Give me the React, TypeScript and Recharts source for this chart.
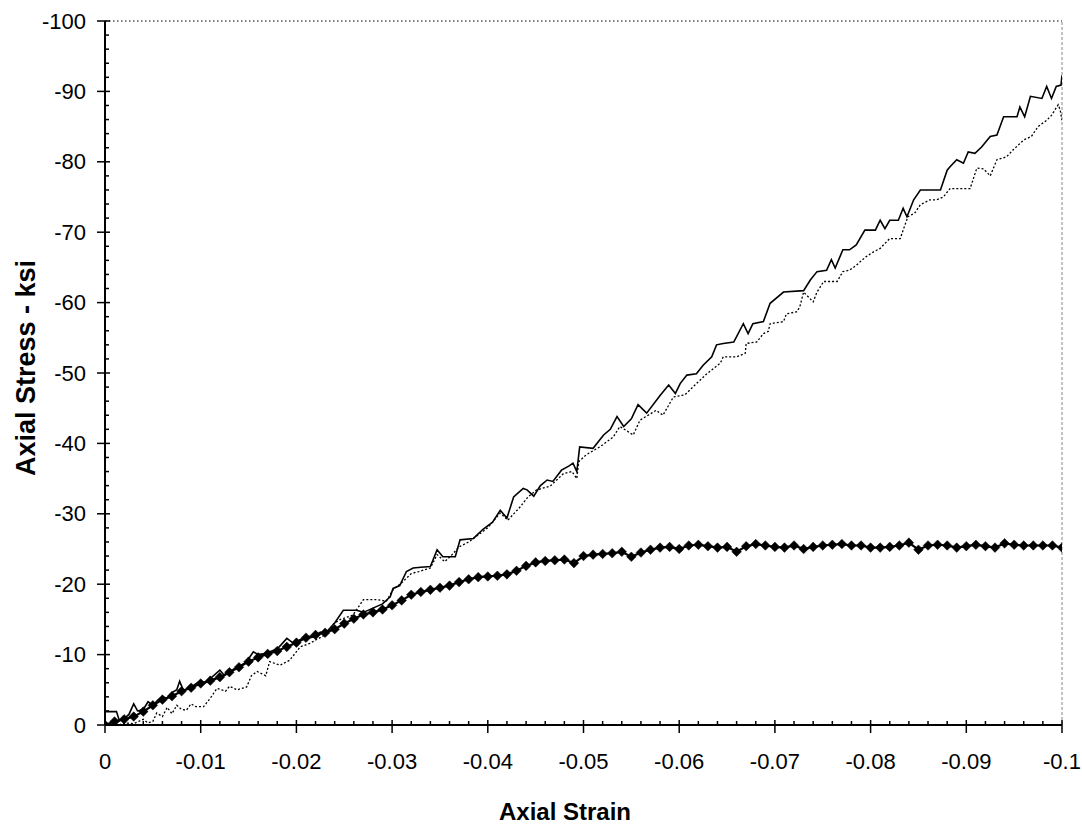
import React from 'react';
import { LineChart, Line, XAxis, YAxis, ReferenceLine } from 'recharts';

// ---- Data ----
const solidStrain = [0, -0.0012, -0.0015, -0.002, -0.0025, -0.003, -0.0034, -0.004, -0.0045, -0.005, -0.0055, -0.006, -0.0065, -0.007, -0.0075, -0.0078, -0.0082, -0.009, -0.0099, -0.0105, -0.011, -0.012, -0.0125, -0.013, -0.014, -0.0148, -0.0155, -0.016, -0.0165, -0.017, -0.018, -0.019, -0.0197, -0.0205, -0.0218, -0.0225, -0.023, -0.024, -0.0249, -0.0263, -0.027, -0.028, -0.029, -0.0298, -0.0301, -0.0308, -0.0315, -0.0322, -0.033, -0.034, -0.0347, -0.0353, -0.0366, -0.0371, -0.0385, -0.0395, -0.0405, -0.0413, -0.042, -0.0427, -0.0437, -0.0441, -0.0448, -0.0455, -0.0462, -0.0468, -0.0477, -0.0485, -0.0489, -0.0493, -0.0496, -0.051, -0.0521, -0.0528, -0.0535, -0.0542, -0.055, -0.0557, -0.0566, -0.058, -0.0589, -0.0596, -0.0601, -0.0608, -0.0618, -0.0625, -0.0634, -0.0639, -0.0646, -0.0657, -0.0667, -0.0672, -0.0677, -0.0688, -0.0695, -0.0709, -0.073, -0.0737, -0.0744, -0.0754, -0.0759, -0.0763, -0.0771, -0.0778, -0.0785, -0.0794, -0.0805, -0.081, -0.0815, -0.082, -0.0829, -0.0834, -0.0838, -0.0845, -0.0852, -0.0873, -0.088, -0.0883, -0.089, -0.0897, -0.0902, -0.0909, -0.0916, -0.0925, -0.0932, -0.0939, -0.0953, -0.0956, -0.0961, -0.0967, -0.0979, -0.0984, -0.0989, -0.0994, -0.0999, -0.1];
const solidStress = [-1.9, -1.9, -0.6, -0.9, -1.5, -3.0, -2.0, -2.2, -3.3, -2.8, -3.5, -4.0, -3.8, -4.6, -5.0, -6.2, -4.9, -5.4, -6.2, -6.0, -6.6, -7.8, -7.0, -7.6, -8.3, -9.0, -10.4, -10.0, -10.1, -10.3, -10.8, -12.3, -11.6, -12.2, -12.5, -13.2, -13.0, -14.5, -16.3, -16.3, -16.0, -16.6, -17.2, -18.2, -19.4, -19.8, -21.8, -22.3, -22.4, -22.5, -24.9, -23.9, -23.9, -26.3, -26.5, -27.8, -28.8, -30.5, -29.4, -32.4, -33.6, -33.4, -32.5, -34.0, -34.8, -34.6, -36.2, -36.8, -37.2, -36.0, -39.5, -39.3, -41.2, -42.0, -43.8, -42.4, -43.5, -45.5, -44.3, -46.8, -48.3, -47.1, -48.5, -49.7, -49.9, -51.1, -52.3, -54.0, -54.2, -54.4, -57.0, -55.6, -57.0, -57.3, -59.9, -61.5, -61.7, -63.2, -64.4, -64.6, -66.1, -64.9, -67.5, -67.5, -68.2, -70.3, -70.3, -71.7, -70.5, -71.7, -71.7, -73.4, -72.2, -74.6, -76.0, -76.0, -78.8, -79.3, -80.3, -79.8, -81.4, -81.2, -82.1, -83.6, -83.8, -86.4, -86.4, -87.8, -86.4, -89.3, -89.0, -90.7, -89.0, -90.7, -90.9, -92.3];

const dottedStrain = [-0.0015, -0.002, -0.003, -0.004, -0.0045, -0.005, -0.0054, -0.006, -0.0065, -0.007, -0.0075, -0.008, -0.0085, -0.009, -0.0095, -0.0103, -0.011, -0.0117, -0.0126, -0.013, -0.0138, -0.0148, -0.0153, -0.0159, -0.0168, -0.0172, -0.0183, -0.0193, -0.0204, -0.0214, -0.0222, -0.023, -0.0239, -0.0246, -0.0259, -0.027, -0.0284, -0.0294, -0.0301, -0.031, -0.032, -0.0328, -0.0335, -0.034, -0.0347, -0.0355, -0.0362, -0.037, -0.038, -0.039, -0.0399, -0.0413, -0.0421, -0.0434, -0.0442, -0.0451, -0.0465, -0.0479, -0.0488, -0.0493, -0.0495, -0.0503, -0.0517, -0.0531, -0.0538, -0.0552, -0.0559, -0.0576, -0.0583, -0.0594, -0.0606, -0.0618, -0.0629, -0.0643, -0.0646, -0.066, -0.0669, -0.067, -0.0681, -0.0688, -0.0693, -0.0695, -0.0709, -0.0712, -0.0723, -0.0726, -0.073, -0.074, -0.0744, -0.0751, -0.0765, -0.0771, -0.0778, -0.0785, -0.0795, -0.0803, -0.081, -0.082, -0.0831, -0.0834, -0.0839, -0.0846, -0.0852, -0.0862, -0.0869, -0.0876, -0.0883, -0.0904, -0.0911, -0.0918, -0.0925, -0.0932, -0.0942, -0.0949, -0.096, -0.0968, -0.0975, -0.0984, -0.0989, -0.0996, -0.0998, -0.1];
const dottedStress = [0, -0.3, -0.2, -0.8, -0.3, -0.5, -1.7, -1.2, -2.5, -1.6, -2.8, -2.2, -2.1, -3.0, -2.6, -2.6, -3.8, -5.2, -4.8, -5.5, -5.0, -5.4, -7.0, -7.6, -7.0, -9.0, -8.5, -9.2, -11.1, -11.6, -12.2, -12.8, -14.4, -15.0, -15.6, -17.8, -17.8, -17.6, -19.2, -20.2, -21.5, -21.8, -22.1, -22.3, -24.2, -23.2, -24.1, -25.3, -26.0, -27.0, -27.9, -30.1, -29.1, -31.0, -32.4, -33.4, -33.9, -35.7, -36.0, -35.0, -37.4, -38.4, -39.5, -40.9, -42.4, -41.2, -43.3, -44.7, -44.0, -46.6, -46.9, -48.5, -49.9, -51.4, -52.3, -52.3, -52.8, -54.2, -54.4, -55.6, -55.9, -57.0, -57.3, -58.4, -58.7, -59.4, -61.5, -60.1, -61.5, -63.0, -63.0, -64.4, -64.6, -65.3, -66.5, -67.2, -67.7, -69.1, -69.1, -70.3, -72.2, -72.7, -73.9, -74.6, -74.6, -75.0, -76.2, -76.2, -79.1, -79.0, -78.0, -80.3, -80.7, -81.7, -83.1, -83.6, -85.0, -85.9, -86.6, -88.1, -87.4, -85.9];

const diamondStrain = [0, -0.001, -0.002, -0.003, -0.004, -0.005, -0.006, -0.007, -0.008, -0.009, -0.01, -0.011, -0.012, -0.013, -0.014, -0.015, -0.016, -0.017, -0.018, -0.019, -0.02, -0.021, -0.022, -0.023, -0.024, -0.025, -0.026, -0.027, -0.028, -0.029, -0.03, -0.031, -0.032, -0.033, -0.034, -0.035, -0.036, -0.037, -0.038, -0.039, -0.04, -0.041, -0.042, -0.043, -0.044, -0.045, -0.046, -0.047, -0.048, -0.049, -0.05, -0.051, -0.052, -0.053, -0.054, -0.055, -0.056, -0.057, -0.058, -0.059, -0.06, -0.061, -0.062, -0.063, -0.064, -0.065, -0.066, -0.067, -0.068, -0.069, -0.07, -0.071, -0.072, -0.073, -0.074, -0.075, -0.076, -0.077, -0.078, -0.079, -0.08, -0.081, -0.082, -0.083, -0.084, -0.085, -0.086, -0.087, -0.088, -0.089, -0.09, -0.091, -0.092, -0.093, -0.094, -0.095, -0.096, -0.097, -0.098, -0.099, -0.1];
const diamondStress = [0, -0.5, -0.8, -1.2, -1.9, -2.8, -3.6, -4.1, -4.8, -5.3, -5.9, -6.3, -6.8, -7.5, -8.2, -9.0, -9.6, -10.1, -10.5, -11.1, -11.7, -12.4, -12.8, -13.1, -13.6, -14.4, -15.1, -15.7, -16.0, -16.4, -17.0, -17.7, -18.5, -18.9, -19.2, -19.5, -19.8, -20.3, -20.7, -21.0, -21.1, -21.2, -21.4, -21.9, -22.6, -23.1, -23.3, -23.4, -23.5, -23.0, -24.0, -24.2, -24.3, -24.4, -24.6, -23.9, -24.5, -24.9, -25.2, -25.3, -25.0, -25.5, -25.6, -25.4, -25.2, -25.3, -24.6, -25.4, -25.7, -25.5, -25.3, -25.2, -25.5, -25.0, -25.3, -25.5, -25.6, -25.7, -25.5, -25.5, -25.2, -25.2, -25.3, -25.5, -25.9, -24.9, -25.5, -25.6, -25.5, -25.2, -25.4, -25.6, -25.4, -25.2, -25.8, -25.6, -25.5, -25.5, -25.5, -25.5, -25.2];

const xMajorTicks = [0, -0.01, -0.02, -0.03, -0.04, -0.05, -0.06, -0.07, -0.08, -0.09, -0.1];
const yMajorTicks = [0, -10, -20, -30, -40, -50, -60, -70, -80, -90, -100];
const xTitle = 'Axial Strain';
const yTitle = 'Axial Stress - ksi';

// ---- helpers ----
const zip = (xs: number[], ys: number[]) => xs.map((x, i) => ({ x, y: ys[i] }));
const solidData = zip(solidStrain, solidStress);
const dottedData = zip(dottedStrain, dottedStress);
const diamondData = zip(diamondStrain, diamondStress);

const subdivide = (majors: number[], n: number) => {
  const out: number[] = [];
  for (let i = 0; i < majors.length - 1; i++) {
    for (let k = 0; k < n; k++) out.push(majors[i] + ((majors[i + 1] - majors[i]) * k) / n);
  }
  out.push(majors[majors.length - 1]);
  return out;
};
const xTicks = subdivide(xMajorTicks, 5);
const yTicks = subdivide(yMajorTicks, 5);

const isMajor = (v: number, majors: number[]) => majors.some((m) => Math.abs(m - v) < 1e-9);
const fmt = (v: number) => {
  const s = String(Number(v.toFixed(2)));
  return s === '-0' ? '0' : s;
};

const FONT = '"Liberation Sans", Arial, Helvetica, sans-serif';

const XTick = (props: any) => {
  const { x, y, payload } = props;
  const v = payload.value;
  const major = isMajor(v, xMajorTicks);
  return (
    <g>
      <line x1={x} x2={x} y1={major ? y - 5 : y - 4} y2={major ? y + 8 : y} stroke="#000" strokeWidth={1.5} />
      {major && (
        <text x={x} y={y + 36} textAnchor="middle" dominantBaseline="central" fontSize={22} fontFamily={FONT} fill="#000">
          {fmt(v)}
        </text>
      )}
    </g>
  );
};

const YTick = (props: any) => {
  const { x, y, payload } = props;
  const v = payload.value;
  const major = isMajor(v, yMajorTicks);
  return (
    <g>
      <line x1={major ? x - 8 : x} x2={major ? x + 5 : x + 4} y1={y} y2={y} stroke="#000" strokeWidth={1.5} />
      {major && (
        <text x={x - 19} y={y} textAnchor="end" dominantBaseline="central" fontSize={22} fontFamily={FONT} fill="#000">
          {fmt(v)}
        </text>
      )}
    </g>
  );
};

const Diamond = (props: any) => {
  const { cx, cy, index } = props;
  if (cx == null || cy == null) return <g key={`d-${index}`} />;
  const r = 4.8;
  return (
    <polygon
      key={`d-${index}`}
      points={`${cx},${cy - r} ${cx + r},${cy} ${cx},${cy + r} ${cx - r},${cy}`}
      fill="#000"
      stroke="#000"
      strokeWidth={0.5}
    />
  );
};

export default function App() {
  return (
    <div style={{ position: 'absolute', left: 0, top: 0, width: 1082, height: 828, background: '#fff' }}>
      <LineChart width={1082} height={828} margin={{ top: 21, right: 20, bottom: 0, left: 0 }}>
        <XAxis
          dataKey="x"
          type="number"
          domain={[-0.1, 0]}
          reversed
          ticks={xTicks}
          interval={0}
          tickSize={0}
          tickMargin={0}
          tickLine={false}
          tick={<XTick />}
          axisLine={{ stroke: '#000', strokeWidth: 2 }}
          height={103}
          allowDataOverflow
        />
        <YAxis
          dataKey="y"
          type="number"
          domain={[-100, 0]}
          reversed
          ticks={yTicks}
          interval={0}
          tickSize={0}
          tickMargin={0}
          tickLine={false}
          tick={<YTick />}
          axisLine={{ stroke: '#000', strokeWidth: 2 }}
          width={105}
          allowDataOverflow
        />
        <ReferenceLine y={-100} stroke="#000" strokeWidth={1.2} strokeDasharray="1.5 2.5" ifOverflow="visible" />
        <ReferenceLine x={-0.1} stroke="#888" strokeWidth={1} strokeDasharray="3 2" ifOverflow="visible" />
        <Line data={dottedData} dataKey="y" type="linear" stroke="#000" strokeWidth={1.3} strokeDasharray="2 2" dot={false} isAnimationActive={false} />
        <Line data={solidData} dataKey="y" type="linear" stroke="#000" strokeWidth={1.6} dot={false} isAnimationActive={false} />
        <Line data={diamondData} dataKey="y" type="linear" stroke="#000" strokeWidth={2.2} dot={<Diamond />} isAnimationActive={false} />
        <text x={565} y={811} textAnchor="middle" dominantBaseline="central" fontSize={24} fontWeight="bold" fontFamily={FONT} fill="#000">
          {xTitle}
        </text>
        <text
          x={26}
          y={368}
          textAnchor="middle"
          dominantBaseline="central"
          fontSize={27}
          fontWeight="bold"
          fontFamily={FONT}
          fill="#000"
          transform="rotate(-90 26 368)"
        >
          {yTitle}
        </text>
      </LineChart>
    </div>
  );
}
